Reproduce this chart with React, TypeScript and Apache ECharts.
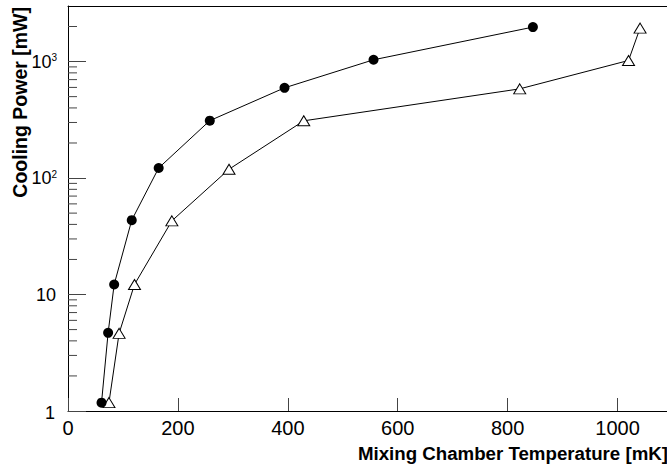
import React, { useEffect, useRef } from "react";
import * as echarts from "echarts";

const xTickValues = [0, 200, 400, 600, 800, 1000];
const yTickValues = [1, 10, 100, 1000];
const yMinorTicks = [2, 3, 4, 5, 6, 7, 8, 9, 20, 30, 40, 50, 60, 70, 80, 90, 200, 300, 400, 500, 600, 700, 800, 900, 2000];

const circleTemp = [61, 73, 84, 116, 165, 258, 394, 556, 846];
const circlePower = [1.18, 4.69, 12.2, 43.5, 122, 311, 595, 1036, 1977];

const triangleTemp = [74.5, 93, 121, 189, 293, 429, 822, 1020, 1041];
const trianglePower = [1.18, 4.64, 12.2, 42.9, 119, 310, 583, 1022, 1938];

const xTitle = "Mixing Chamber Temperature [mK]";
const yTitle = "Cooling Power [mW]";

const FONT = "Liberation Sans, Arial, Helvetica, sans-serif";

export default function App() {
  const ref = useRef<HTMLDivElement>(null);
  useEffect(() => {
    if (!ref.current) return;
    const chart = echarts.init(ref.current, null, { renderer: "svg" });
    const circleData = circleTemp.map((t, i) => [t, circlePower[i]]);
    const triData = triangleTemp.map((t, i) => [t, trianglePower[i]]);
    const minorData = yMinorTicks.map((v) => [0, v]);
    chart.setOption({
      animation: false,
      backgroundColor: "#fff",
      textStyle: { fontFamily: FONT },
      grid: { left: 68, top: 6, right: 0, bottom: 53, containLabel: false },
      xAxis: [
        {
          type: "value",
          min: 0,
          max: 1090,
          interval: 200,
          axisLine: { show: true, lineStyle: { color: "#000", width: 1 } },
          axisTick: { show: true, inside: true, length: 13, lineStyle: { color: "#444" }, customValues: xTickValues },
          axisLabel: {
            show: true,
            fontSize: 20,
            color: "#000",
            margin: 7,
            fontFamily: FONT,
            customValues: xTickValues,
            formatter: (v: number) => String(v),
          },
          splitLine: { show: false },
        },
        {
          type: "value",
          position: "top",
          min: 0,
          max: 1090,
          axisLine: { show: true, onZero: false, lineStyle: { color: "#000", width: 1 } },
          axisTick: { show: false },
          axisLabel: { show: false },
          splitLine: { show: false },
        },
      ],
      yAxis: {
        type: "log",
        logBase: 10,
        min: 1,
        max: 3000,
        axisLine: { show: true, lineStyle: { color: "#000", width: 1 } },
        axisTick: { show: true, inside: true, length: 18, lineStyle: { color: "#444" } },
        axisLabel: {
          show: true,
          showMaxLabel: false,
          margin: 11,
          color: "#000",
          fontSize: 18,
          fontFamily: FONT,
          formatter: (v: number) => {
            if (v === 1) return "{p|1}";
            if (v === 10) return "{q|10}";
            if (!yTickValues.includes(v)) return "";
            const e = Math.round(Math.log10(v));
            return "{b|10}{s|" + e + "}";
          },
          rich: {
            p: { fontSize: 18, fontFamily: FONT, color: "#000", padding: [4, 2, 0, 0] },
            q: { fontSize: 18, fontFamily: FONT, color: "#000", padding: [0, 1, 0, 0] },
            b: { fontSize: 18, lineHeight: 18, fontFamily: FONT, color: "#000", verticalAlign: "bottom", padding: [4, 0, 0, 0] },
            s: { fontSize: 10, lineHeight: 10, fontFamily: FONT, color: "#000", verticalAlign: "top" },
          },
        },
        splitLine: { show: false },
      },
      graphic: [
        {
          type: "text",
          x: 668,
          y: 453,
          style: { text: xTitle, font: "bold 18.7px " + FONT, fill: "#000", textAlign: "right", textVerticalAlign: "middle" },
        },
        {
          type: "text",
          x: 20,
          y: 7,
          rotation: Math.PI / 2,
          style: { text: yTitle, font: "bold 19.5px " + FONT, fill: "#000", textAlign: "right", textVerticalAlign: "middle" },
        },
      ],
      series: [
        {
          type: "custom",
          data: minorData,
          silent: true,
          renderItem: (params: any, api: any) => {
            const p = api.coord([0, api.value(1)]);
            const x0 = params.coordSys.x;
            return {
              type: "line",
              shape: { x1: x0, y1: p[1], x2: x0 + 9, y2: p[1] },
              style: { stroke: "#444", lineWidth: 1 },
            };
          },
          z: 1,
        },
        {
          type: "line",
          data: circleData,
          symbol: "circle",
          symbolSize: 10,
          lineStyle: { color: "#000", width: 1 },
          itemStyle: { color: "#000" },
          z: 3,
        },
        {
          type: "line",
          data: triData,
          symbol: "triangle",
          symbolSize: [12, 10],
          lineStyle: { color: "#000", width: 1 },
          itemStyle: { color: "#fff", borderColor: "#000", borderWidth: 1 },
          z: 2,
        },
      ],
    });
    return () => chart.dispose();
  }, []);
  return <div ref={ref} style={{ position: "fixed", left: 0, top: 0, width: 667, height: 464 }} />;
}
